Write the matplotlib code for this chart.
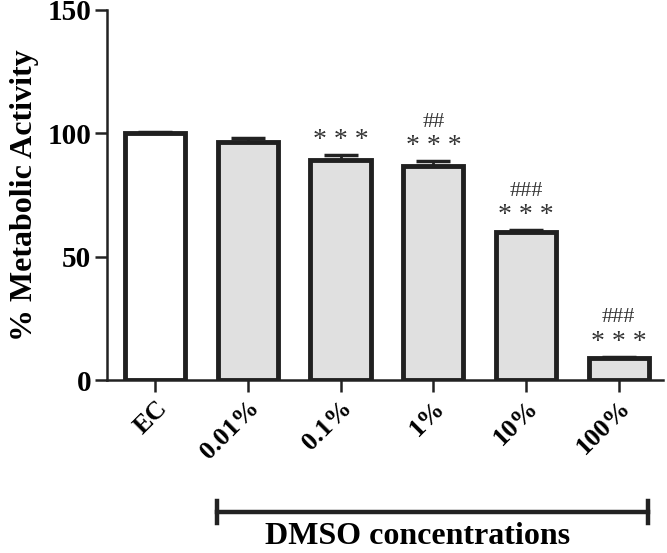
import numpy as np
import matplotlib.pyplot as plt

plt.rcParams['font.family'] = ['Liberation Serif', 'DejaVu Serif']

labels = ['EC', '0.01%', '0.1%', '1%', '10%', '100%']
means = [100.0, 96.5, 89.2, 86.6, 59.8, 9.0]
sem = [0.5, 1.4, 1.8, 2.0, 0.8, 0.3]
stars = ['', '', '***', '***', '***', '***']
hashes = ['', '', '', '##', '###', '###']
fills = ['white', '#e0e0e0', '#e0e0e0', '#e0e0e0', '#e0e0e0', '#e0e0e0']

fig = plt.figure(figsize=(6.67, 5.53), dpi=100)
ax = fig.add_axes([0.1604, 0.3128, 0.834, 0.6694])

x = np.arange(len(labels))
ax.errorbar(x, means, yerr=[np.zeros(len(sem)), sem], fmt='none',
            ecolor='#222222', elinewidth=2, capsize=12, capthick=2.5, zorder=1)
ax.bar(x, means, width=0.65, color=fills, edgecolor='#202020', linewidth=3.5, zorder=2)

for i in range(len(labels)):
    top = means[i] + sem[i]
    if stars[i]:
        ax.text(x[i], top + 0.8, ' '.join(stars[i]), ha='center', va='bottom',
                fontsize=20, color='#333333')
    if hashes[i]:
        ax.text(x[i], top + 12.0, hashes[i], ha='center', va='bottom',
                fontsize=16, color='#333333')

ax.set_xlim(-0.52, 5.48)
ax.set_ylim(0, 150)
ax.set_yticks([0, 50, 100, 150])
ax.set_xticks(x)
ax.set_xticklabels(labels, rotation=45, ha='right', rotation_mode='anchor',
                   fontsize=19, fontweight='bold')
for t in ax.get_yticklabels():
    t.set_fontsize(21)
    t.set_fontweight('bold')
ax.set_ylabel('% Metabolic Activity', fontsize=23, fontweight='bold', labelpad=6)

ax.spines['top'].set_visible(False)
ax.spines['right'].set_visible(False)
ax.spines['left'].set_linewidth(1.8)
ax.spines['bottom'].set_linewidth(1.8)
ax.spines['left'].set_color('#222222')
ax.spines['bottom'].set_color('#222222')
ax.tick_params(axis='both', length=8.5, width=1.8, color='#222222', pad=3)

# bracket under the DMSO groups
bx0, bx1 = 217 / 667, 648 / 667
by = 1 - 512 / 553
fig.add_artist(plt.Line2D([bx0, bx1], [by, by], color='#222222', lw=3.2))
for bx in (bx0, bx1):
    fig.add_artist(plt.Line2D([bx, bx], [by - 0.02, by + 0.02], color='#222222', lw=3.2))
fig.text(418 / 667, 2 / 553, 'DMSO concentrations', ha='center', va='bottom',
         fontsize=23, fontweight='bold')

plt.savefig('out.png', dpi=100)
